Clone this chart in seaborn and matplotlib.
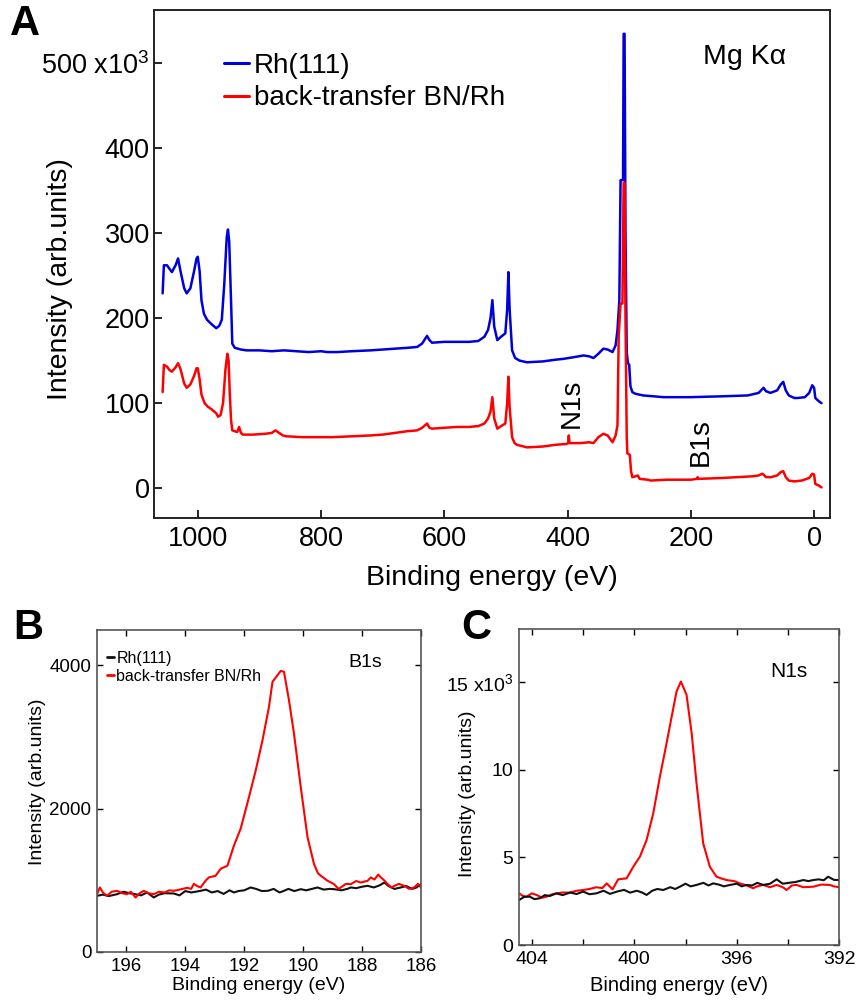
import matplotlib
matplotlib.use("Agg")
import matplotlib.pyplot as plt
import seaborn as sns
import pandas as pd
from matplotlib.ticker import FixedLocator

# ---------------- Panel A: survey spectra (intensity in 10^3 units) ----------------
survey_rh_energy = [1057, 1055, 1050, 1046, 1042, 1036, 1032, 1028, 1022, 1018, 1012, 1006, 1002, 1000,
                    997, 994, 990, 985, 978, 970, 965, 961, 957, 953, 951, 949, 946, 944, 940, 930, 921,
                    900, 880, 860, 840, 820, 800, 790, 774, 750, 720, 700, 680, 660, 644, 636, 628, 624,
                    620, 600, 580, 560, 545, 535, 529, 525, 522, 519, 514, 508, 501, 498, 496, 494, 490,
                    485, 478, 466, 440, 420, 407, 390, 374, 365, 358, 350, 342, 335, 327, 322, 319, 316,
                    314, 310, 309, 307.5, 306, 304, 302, 300, 298, 295, 290, 277, 260, 245, 200, 150, 108,
                    90, 82, 78, 71, 60, 54, 50, 46, 41, 32, 27, 15, 8, 3, 0, -2, -8, -12]
survey_rh_intensity = [229, 262, 262, 258, 254, 262, 270, 255, 235, 229, 235, 255, 270, 272,
                       255, 221, 205, 198, 193, 188, 191, 198, 240, 295, 304, 290, 220, 170, 165, 163, 162,
                       162, 161, 162, 161, 160, 161, 160, 160, 161, 162, 163, 164, 165, 166, 170, 179, 174,
                       171, 172, 172, 172, 173, 178, 186, 200, 221, 190, 174, 178, 182, 210, 254, 210, 162,
                       153, 150, 148, 149, 151, 152, 154, 156, 155, 153, 158, 164, 163, 160, 168, 186, 221,
                       362, 362, 534, 534, 300, 160, 147, 145, 120, 113, 111, 109, 108, 107, 107, 108, 109,
                       112, 118, 114, 112, 115, 122, 125, 115, 109, 106, 106, 107, 112, 121, 118, 106, 102, 100]

survey_bn_energy = [1057, 1055, 1050, 1046, 1042, 1036, 1032, 1028, 1022, 1018, 1012, 1006, 1002, 1000,
                    997, 994, 989, 984, 978, 970, 967, 963, 959, 955, 952, 950, 948, 946, 944, 940, 936,
                    933, 930, 927, 910, 890, 880, 874, 870, 862, 856, 830, 800, 781, 750, 720, 700, 680,
                    660, 644, 636, 628, 624, 620, 600, 580, 560, 545, 535, 529, 525, 522, 519, 514, 508,
                    501, 498, 496, 494, 490, 486, 482, 466, 440, 420, 402, 399, 398, 397, 380, 365, 358,
                    350, 342, 335, 327, 322, 319, 317, 314, 311, 309, 307.5, 306, 304, 303, 301, 299, 297,
                    295, 290, 286, 283, 270, 265, 240, 200, 190, 189, 188, 150, 100, 90, 84, 82, 78, 70,
                    60, 54, 50, 46, 41, 32, 20, 8, 3, 0, -2, -8, -12]
survey_bn_intensity = [113, 145, 143, 139, 137, 142, 147, 140, 123, 118, 122, 132, 141, 141,
                       128, 110, 100, 96, 93, 88, 84, 86, 100, 140, 158, 150, 110, 80, 68, 67, 66,
                       72, 65, 63, 63, 64, 65, 68, 66, 62, 61, 60, 60, 60, 61, 62, 63, 65,
                       67, 68, 71, 76, 71, 70, 71, 72, 72, 73, 76, 82, 90, 107, 82, 70, 73,
                       76, 100, 131, 95, 60, 53, 51, 48, 49, 51, 52, 53, 62, 53, 53, 54, 53,
                       60, 64, 62, 54, 62, 74, 180, 217, 217, 359, 359, 200, 60, 41, 40, 39, 20,
                       13, 14, 15, 11, 10, 9, 10, 10, 11, 13, 11, 12, 14, 15, 17, 16, 13, 13,
                       15, 19, 20, 13, 9, 8, 9, 12, 17, 16, 5, 3, 1]

survey_series = ["Rh(111)", "back-transfer BN/Rh"]
survey_yticks = [0, 100, 200, 300, 400, 500]
survey_yticklabels = ["0", "100", "200", "300", "400", "500 x10$^{3}$"]
survey_xticks = [1000, 800, 600, 400, 200, 0]

# ---------------- Panel B: B1s ----------------
b1s_rh_energy = [197.0, 196.8, 196.6, 196.32, 196.1, 195.9, 195.7, 195.5, 195.3, 195.07, 194.9, 194.7,
                 194.39, 194.2, 194.0, 193.8, 193.48, 193.3, 193.1, 192.9, 192.7, 192.5, 192.35, 192.2,
                 192.0, 191.78, 191.6, 191.4, 191.2, 191.0, 190.8, 190.65, 190.5, 190.3, 190.08, 189.9,
                 189.7, 189.51, 189.3, 189.1, 188.95, 188.7, 188.5, 188.38, 188.2, 188.0, 187.81, 187.6,
                 187.4, 187.24, 187.1, 186.9, 186.68, 186.5, 186.3, 186.15, 186.0]
b1s_rh_intensity = [783, 800, 780, 806, 840, 820, 806, 790, 830, 760, 800, 820,
                    816, 790, 850, 830, 853, 870, 830, 850, 810, 860, 830, 850,
                    860, 900, 880, 850, 853, 880, 830, 853, 880, 850, 876, 860,
                    880, 900, 870, 880, 876, 860, 880, 900, 890, 910, 923, 900,
                    930, 969, 920, 880, 900, 920, 880, 900, 946]
b1s_bn_energy = [197.0, 196.9, 196.8, 196.66, 196.5, 196.32, 196.15, 195.98, 195.85, 195.69, 195.55,
                 195.41, 195.25, 195.07, 194.9, 194.7, 194.55, 194.39, 194.2, 193.94, 193.8, 193.71,
                 193.6, 193.48, 193.3, 193.2, 192.97, 192.8, 192.57, 192.35, 192.12, 191.84, 191.61,
                 191.38, 191.16, 191.04, 190.87, 190.76, 190.65, 190.48, 190.31, 190.08, 189.85, 189.63,
                 189.5, 189.40, 189.17, 188.95, 188.8, 188.72, 188.55, 188.38, 188.2, 188.04, 187.81,
                 187.7, 187.58, 187.45, 187.36, 187.25, 187.13, 187.0, 186.90, 186.75, 186.57, 186.4,
                 186.23, 186.1, 186.0]
b1s_bn_intensity = [806, 900, 830, 783, 840, 853, 820, 806, 840, 760, 820,
                    853, 820, 806, 840, 830, 860, 853, 870, 895, 880, 951,
                    920, 900, 1000, 1040, 1063, 1161, 1203, 1483, 1720, 2158, 2531,
                    2951, 3417, 3767, 3860, 3920, 3907, 3510, 3044, 2298, 1599, 1226,
                    1100, 1063, 993, 946, 880, 900, 950, 946, 990, 969, 993,
                    1040, 1010, 1080, 1040, 1000, 946, 900, 923, 950, 923, 880,
                    900, 950, 900]
b1s_xticks = [196, 194, 192, 190, 188, 186]
b1s_yticks = [0, 2000, 4000]

# ---------------- Panel C: N1s (intensity in 10^3 units) ----------------
n1s_rh_energy = [404.5, 404.3, 404.08, 403.9, 403.69, 403.5, 403.3, 403.04, 402.8, 402.5, 402.26, 402.0,
                 401.75, 401.48, 401.2, 400.95, 400.68, 400.4, 400.17, 399.9, 399.7, 399.52, 399.3, 399.1,
                 398.87, 398.6, 398.4, 398.22, 398.0, 397.8, 397.57, 397.3, 397.1, 396.92, 396.7, 396.5,
                 396.27, 396.0, 395.8, 395.62, 395.4, 395.2, 394.96, 394.7, 394.44, 394.2, 393.92, 393.7,
                 393.4, 393.2, 393.01, 392.8, 392.6, 392.43, 392.2, 392.0]
n1s_rh_intensity = [2.57, 2.75, 2.76, 2.62, 2.67, 2.85, 2.80, 2.95, 2.85, 3.00, 2.91, 3.05,
                    2.90, 2.95, 3.10, 2.92, 3.05, 3.15, 2.99, 3.10, 3.00, 2.86, 3.10, 3.20,
                    3.14, 3.30, 3.20, 3.33, 3.50, 3.35, 3.43, 3.55, 3.40, 3.52, 3.45, 3.35,
                    3.43, 3.50, 3.35, 3.43, 3.40, 3.55, 3.43, 3.50, 3.75, 3.50, 3.56, 3.60,
                    3.71, 3.65, 3.71, 3.75, 3.70, 3.90, 3.72, 3.71]
n1s_bn_energy = [404.5, 404.35, 404.21, 404.0, 403.82, 403.6, 403.43, 403.2, 403.04, 402.8, 402.52,
                 402.25, 402.0, 401.75, 401.48, 401.25, 401.08, 400.85, 400.63, 400.30, 400.04, 399.78,
                 399.52, 399.26, 399.0, 398.74, 398.54, 398.35, 398.18, 397.96, 397.76, 397.57, 397.31,
                 397.05, 396.79, 396.6, 396.40, 396.1, 395.88, 395.6, 395.36, 395.2, 394.96, 394.7,
                 394.44, 394.2, 394.05, 393.85, 393.66, 393.4, 393.01, 392.7, 392.36, 392.2, 392.0]
n1s_bn_intensity = [2.95, 2.80, 2.76, 2.95, 2.86, 2.70, 2.76, 2.90, 2.95, 3.00, 2.99,
                    3.10, 3.14, 3.20, 3.30, 3.25, 3.52, 3.18, 3.75, 3.81, 4.47, 5.05,
                    6.00, 7.52, 9.62, 11.52, 13.05, 14.48, 15.05, 14.29, 12.10, 9.24, 5.81,
                    4.47, 3.90, 3.80, 3.71, 3.65, 3.52, 3.40, 3.24, 3.35, 3.43, 3.30,
                    3.43, 3.30, 3.14, 3.40, 3.43, 3.30, 3.33, 3.45, 3.43, 3.35, 3.30]
n1s_xticks = [404, 400, 396, 392]
n1s_xminor = [402, 398, 394]
n1s_yticks = [0, 5, 10, 15]
n1s_yticklabels = ["0", "5", "10", "15 x10$^{3}$"]

# ---------------- Figure ----------------
sns.set_theme(style="ticks")
plt.rcParams["font.family"] = ["Liberation Sans", "DejaVu Sans"]
plt.rcParams["mathtext.fontset"] = "custom"
plt.rcParams["mathtext.rm"] = "Liberation Sans"
plt.rcParams["mathtext.it"] = "Liberation Sans"
for key in ["text.color", "axes.labelcolor", "xtick.color", "ytick.color"]:
    plt.rcParams[key] = "black"

fig = plt.figure(figsize=(8.58, 10), dpi=100)
fig.patch.set_facecolor("white")

axA = fig.add_axes([0.1795, 0.482, 0.788, 0.508])
axB = fig.add_axes([0.113, 0.048, 0.3776, 0.322])
axC = fig.add_axes([0.605, 0.055, 0.373, 0.316])

dfA = pd.concat([
    pd.DataFrame({"E": survey_rh_energy, "I": survey_rh_intensity, "s": survey_series[0]}),
    pd.DataFrame({"E": survey_bn_energy, "I": survey_bn_intensity, "s": survey_series[1]}),
])
sns.lineplot(data=dfA, x="E", y="I", hue="s", palette=["#0000dd", "#ff0000"],
             estimator=None, linewidth=1.8, ax=axA)
axA.set_xlim(1071, -26)
axA.set_ylim(-35, 562)
axA.set_xticks(survey_xticks)
axA.set_xticklabels([str(v) for v in survey_xticks])
axA.set_yticks(survey_yticks)
axA.set_yticklabels(survey_yticklabels)
axA.tick_params(direction="in", length=6, width=1.2, labelsize=19.5, colors="black")
axA.tick_params(axis="x", pad=6)
axA.tick_params(axis="y", pad=3)
for sp in axA.spines.values():
    sp.set_color("#222222")
    sp.set_linewidth(1.4)
axA.set_xlabel("Binding energy (eV)", fontsize=20.5, labelpad=9)
axA.set_ylabel("Intensity (arb.units)", fontsize=20.5)
axA.yaxis.set_label_coords(-0.12, 0.47)
leg = axA.legend(loc="upper left", bbox_to_anchor=(0.103, 0.915), frameon=False, fontsize=20,
                 handlelength=0.9, handletextpad=0.2, labelspacing=0.22, borderaxespad=0,
                 borderpad=0)
for line in leg.get_lines():
    line.set_linewidth(2.2)
axA.text(0.874, 0.907, "Mg K\u03b1", transform=axA.transAxes, fontsize=20.5, ha="center", va="center")
axA.text(393, 100, "N1s", rotation=90, fontsize=20, ha="center", va="center")
axA.text(184, 54, "B1s", rotation=90, fontsize=20, ha="center", va="center")

dfB = pd.concat([
    pd.DataFrame({"E": b1s_rh_energy, "I": b1s_rh_intensity, "s": survey_series[0]}),
    pd.DataFrame({"E": b1s_bn_energy, "I": b1s_bn_intensity, "s": survey_series[1]}),
])
sns.lineplot(data=dfB, x="E", y="I", hue="s", palette=["#111111", "#ff0000"],
             estimator=None, linewidth=1.5, ax=axB)
axB.set_xlim(197, 186)
axB.set_ylim(0, 4490)
axB.set_xticks(b1s_xticks)
axB.set_yticks(b1s_yticks)
axB.tick_params(direction="in", length=4, width=1, labelsize=13.5, top=True, right=True, pad=4)
for sp in axB.spines.values():
    sp.set_color("#555555")
    sp.set_linewidth(1.2)
axB.set_xlabel("Binding energy (eV)", fontsize=14, labelpad=2)
axB.set_ylabel("Intensity (arb.units)", fontsize=14)
axB.yaxis.set_label_coords(-0.157, 0.53)
legB = axB.legend(loc="upper left", bbox_to_anchor=(0.03, 0.936), frameon=False, fontsize=11.5,
                  handlelength=0.45, handletextpad=0.15, labelspacing=0.2, borderaxespad=0,
                  borderpad=0)
for line in legB.get_lines():
    line.set_linewidth(2)
axB.text(0.827, 0.90, "B1s", transform=axB.transAxes, fontsize=14, ha="center", va="center")

dfC = pd.concat([
    pd.DataFrame({"E": n1s_rh_energy, "I": n1s_rh_intensity, "s": survey_series[0]}),
    pd.DataFrame({"E": n1s_bn_energy, "I": n1s_bn_intensity, "s": survey_series[1]}),
])
sns.lineplot(data=dfC, x="E", y="I", hue="s", hue_order=[survey_series[1], survey_series[0]],
             palette=["#ff0000", "#111111"], estimator=None, linewidth=1.5, ax=axC, legend=False)
axC.set_xlim(404.5, 392)
axC.set_ylim(0, 18.05)
axC.set_xticks(n1s_xticks)
axC.xaxis.set_minor_locator(FixedLocator(n1s_xminor))
axC.set_yticks(n1s_yticks)
axC.set_yticklabels(n1s_yticklabels)
axC.tick_params(which="both", direction="in", length=4, width=1, labelsize=14, top=True, right=True, pad=4)
for sp in axC.spines.values():
    sp.set_color("#555555")
    sp.set_linewidth(1.2)
axC.set_xlabel("Binding energy (eV)", fontsize=14.5, labelpad=6)
axC.set_ylabel("Intensity (arb.units)", fontsize=14)
axC.yaxis.set_label_coords(-0.134, 0.48)
axC.text(0.844, 0.864, "N1s", transform=axC.transAxes, fontsize=15, ha="center", va="center")

fig.text(0.012, 0.976, "A", fontsize=30, fontweight="bold", ha="left", va="center")
fig.text(0.015, 0.372, "B", fontsize=30, fontweight="bold", ha="left", va="center")
fig.text(0.538, 0.372, "C", fontsize=30, fontweight="bold", ha="left", va="center")

fig.savefig("out.png", dpi=100, facecolor="white")
